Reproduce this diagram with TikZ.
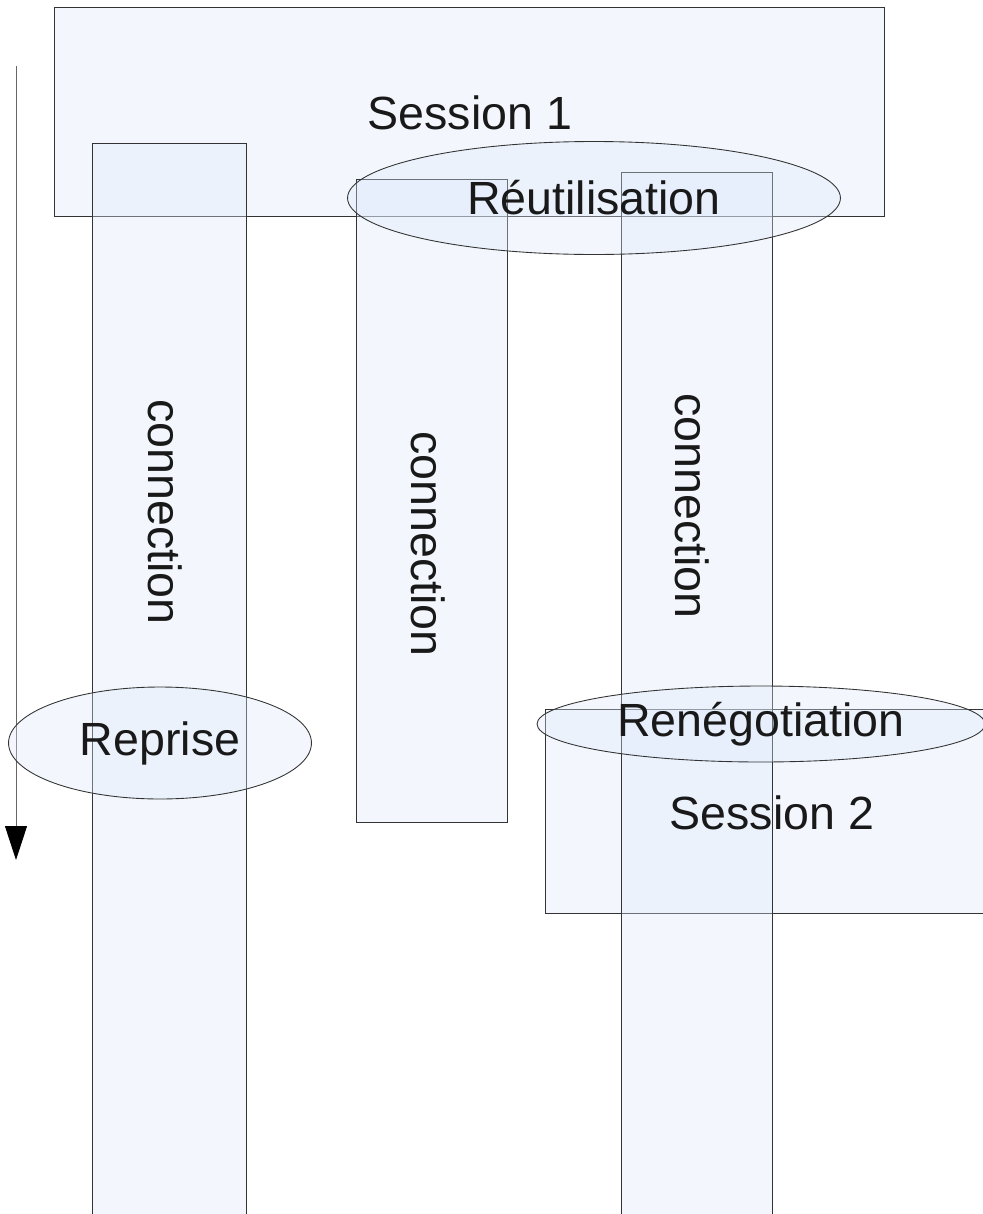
\documentclass[tikz,border=0pt]{standalone}
\usepackage{fontspec}
\setmainfont{Liberation Sans}
\usetikzlibrary{shapes.geometric, arrows.meta}
\definecolor{paleblue}{HTML}{DCE9FA}
\definecolor{edgegray}{HTML}{333333}

\begin{document}
\begin{tikzpicture}[
  x=0.02cm, y=-0.02cm,
  panel/.style={draw=edgegray, line width=0.5pt, fill=paleblue, fill opacity=0.35, text opacity=1},
  oval/.style={ellipse, panel, inner sep=0pt, font=\fontsize{26.5}{30}\selectfont, text=black!90},
  caption/.style={font=\fontsize{26.5}{30}\selectfont, text=black!90},
  timeline/.style={-{Triangle[length=0.68cm, width=0.44cm, color=black]}, line width=0.5pt, draw=black!60}
]
  \useasboundingbox (0,0) rectangle (983,1214);

  % Time axis
  \coordinate (tstart) at (16,66);
  \coordinate (tend) at (16,860);
  \draw[timeline] (tstart) -- (tend);

  % Sessions
  \draw[panel] (54,7) rectangle (884,216);
  \draw[panel] (545,709) rectangle (990,913);

  % Connections
  \draw[panel] (92,143) rectangle (246,1220);
  \draw[panel] (356,179) rectangle (507,822);
  \draw[panel] (621,172) rectangle (772,1220);

  % Labels on top of the fills
  \node[caption] (sess1) at (470,113) {Session 1};
  \node[caption] (sess2) at (772,813) {Session 2};
  \node[caption, rotate=-90] (conn1) at (165,512) {connection};
  \node[caption, rotate=-90] (conn2) at (428,544) {connection};
  \node[caption, rotate=-90] (conn3) at (692,506) {connection};

  % Mechanisms
  \node[oval, minimum width=9.86cm, minimum height=2.26cm] (reuse) at (594,198) {Réutilisation};
  \node[oval, minimum width=6.06cm, minimum height=2.24cm] (resume) at (160,743) {Reprise};
  \node[oval, minimum width=8.96cm, minimum height=1.52cm] (reneg) at (761,724) {Renégotiation};
\end{tikzpicture}
\end{document}
